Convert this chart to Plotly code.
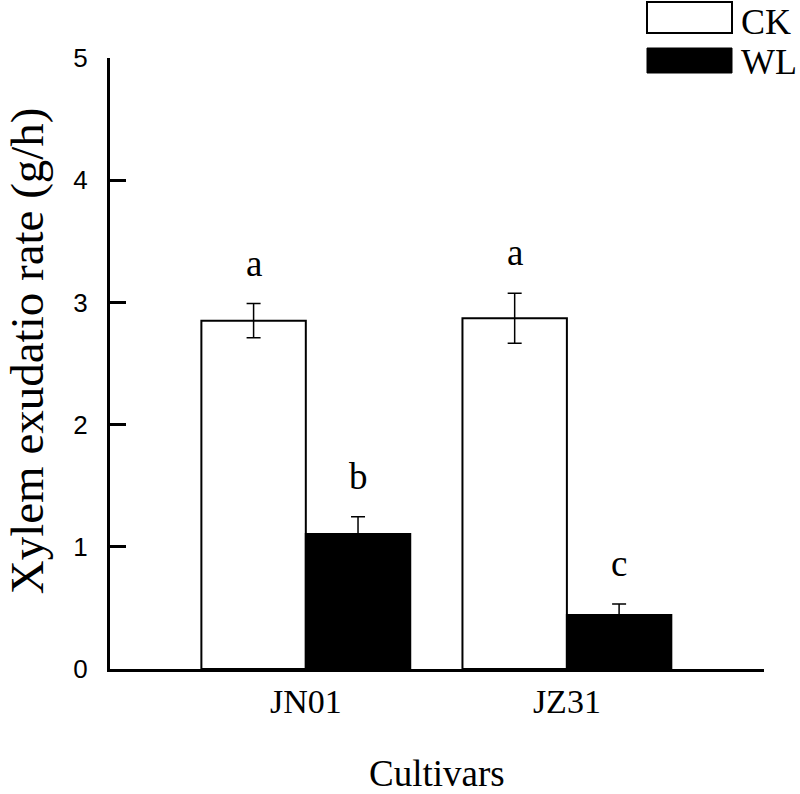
import plotly.graph_objects as go

cultivars = ["JN01", "JZ31"]
ck_values = [2.85, 2.87]
ck_errors = [0.14, 0.205]
wl_values = [1.105, 0.442]
wl_errors = [0.14, 0.09]
ck_letters = ["a", "a"]
wl_letters = ["b", "c"]
y_ticks = [0, 1, 2, 3, 4, 5]

SERIF = "Liberation Serif, Times New Roman, serif"
SANS = "Liberation Sans, Arial, sans-serif"

fig = go.Figure()
fig.add_trace(go.Bar(
    name="CK", x=cultivars, y=ck_values,
    marker=dict(color="white", line=dict(color="black", width=2)),
    error_y=dict(type="data", array=ck_errors, color="black", thickness=1.5, width=7),
))
fig.add_trace(go.Bar(
    name="WL", x=cultivars, y=wl_values,
    marker=dict(color="black", line=dict(color="black", width=2)),
    error_y=dict(type="data", array=wl_errors, color="black", thickness=1.5, width=7),
))

annotations = []
for i, c in enumerate(cultivars):
    for off, vals, errs, letters in ((-0.2, ck_values, ck_errors, ck_letters),
                                     (0.2, wl_values, wl_errors, wl_letters)):
        annotations.append(dict(
            x=i + off, y=vals[i] + errs[i], xref="x", yref="y",
            text=letters[i], showarrow=False, yanchor="bottom", yshift=18,
            font=dict(family=SERIF, size=37, color="black"),
        ))

# y-axis title
annotations.append(dict(
    x=0, y=0.52, xref="paper", yref="paper", text="Xylem exudatio rate (g/h)",
    textangle=-90, showarrow=False, xanchor="center", yanchor="middle", xshift=-83,
    font=dict(family=SERIF, size=47, color="black"),
))
# x-axis title
annotations.append(dict(
    x=0.5, y=0, xref="paper", yref="paper", text="Cultivars",
    showarrow=False, xanchor="center", yanchor="top", yshift=-82,
    font=dict(family=SERIF, size=37, color="black"),
))

# legend (custom boxes)
shapes = [
    dict(type="rect", xref="paper", yref="paper", x0=(647 - 110) / 654, x1=(732 - 110) / 654,
         y0=(669 - 33) / 611, y1=(669 - 2) / 611, fillcolor="white", line=dict(color="black", width=2)),
    dict(type="rect", xref="paper", yref="paper", x0=(647 - 110) / 654, x1=(732 - 110) / 654,
         y0=(669 - 73) / 611, y1=(669 - 48) / 611, fillcolor="black", line=dict(color="black", width=1)),
]
for name, ypix in (("CK", 22), ("WL", 62)):
    annotations.append(dict(
        x=(739 - 110) / 654, y=(669 - ypix) / 611, xref="paper", yref="paper", text=name,
        showarrow=False, xanchor="left", yanchor="middle",
        font=dict(family=SERIF, size=36, color="black"),
    ))

fig.update_layout(
    width=800, height=794,
    margin=dict(l=110, r=36, t=58, b=125),
    paper_bgcolor="white", plot_bgcolor="white",
    barmode="group", bargap=0.2, bargroupgap=0,
    showlegend=False,
    annotations=annotations, shapes=shapes,
    xaxis=dict(range=[-0.75, 1.755], showline=True, linecolor="black", linewidth=3,
               ticks="", showgrid=False, zeroline=False,
               tickfont=dict(family=SERIF, size=34, color="black")),
    yaxis=dict(range=[0, 5], tickvals=y_ticks, showline=True, linecolor="black", linewidth=3,
               ticks="inside", ticklen=16, tickwidth=3, tickcolor="black",
               showgrid=False, zeroline=False, ticklabelstandoff=14,
               tickfont=dict(family=SANS, size=26, color="black")),
)

fig.write_html("out.html", config={"displayModeBar": False},
               post_script="document.body.style.margin='0';document.body.style.overflow='hidden';")
